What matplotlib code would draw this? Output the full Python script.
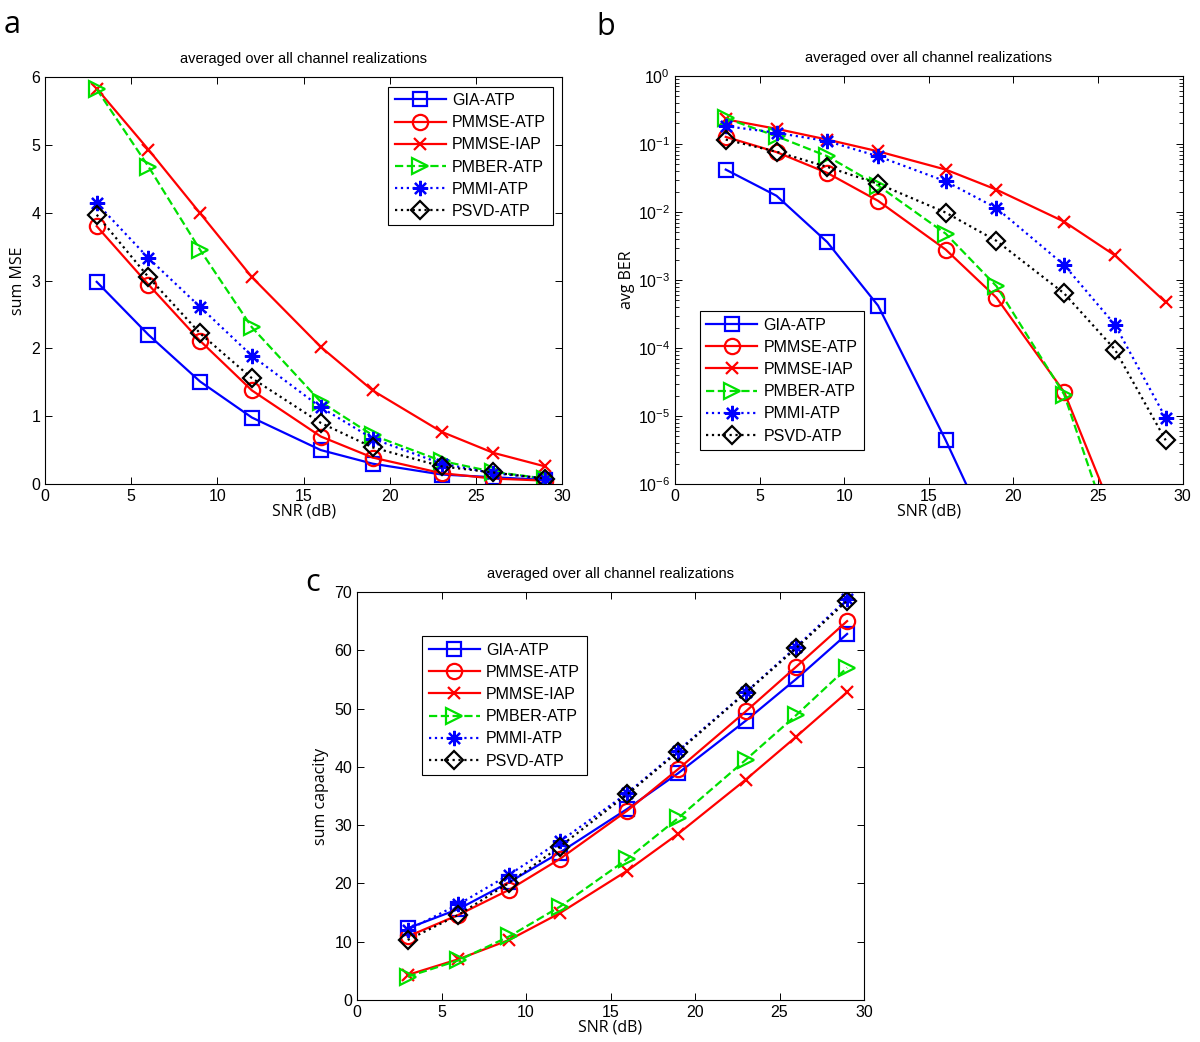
import numpy as np
import matplotlib
matplotlib.use("Agg")
import matplotlib.pyplot as plt
from matplotlib.ticker import LogLocator, NullFormatter

plt.rcParams['font.family'] = ['Liberation Sans', 'DejaVu Sans']

snr = [3, 6, 9, 12, 16, 19, 23, 26, 29]
names = ['GIA-ATP', 'PMMSE-ATP', 'PMMSE-IAP', 'PMBER-ATP', 'PMMI-ATP', 'PSVD-ATP']

# sum MSE (panel a)
mse_gia = [2.98, 2.20, 1.51, 0.98, 0.50, 0.30, 0.14, 0.10, 0.06]
mse_pmmse = [3.80, 2.94, 2.11, 1.38, 0.70, 0.39, 0.16, 0.08, 0.05]
mse_iap = [5.83, 4.93, 3.99, 3.05, 2.02, 1.38, 0.77, 0.46, 0.26]
mse_pmber = [5.82, 4.68, 3.45, 2.31, 1.21, 0.72, 0.34, 0.18, 0.08]
mse_pmmi = [4.14, 3.33, 2.61, 1.89, 1.13, 0.67, 0.30, 0.16, 0.08]
mse_psvd = [3.97, 3.05, 2.22, 1.56, 0.90, 0.54, 0.26, 0.17, 0.08]

# avg BER (panel b)
nan = np.nan
ber_gia = [4.2e-2, 1.73e-2, 3.6e-3, 4.2e-4, 4.4e-6, 1.1e-7, nan, nan, nan]
ber_pmmse = [0.127, 7.6e-2, 3.75e-2, 1.46e-2, 2.8e-3, 5.5e-4, 2.25e-5, 3.2e-7, nan]
ber_iap = [0.23, 0.167, 0.116, 7.8e-2, 4.2e-2, 2.13e-2, 7.2e-3, 2.3e-3, 4.7e-4]
ber_pmber = [0.24, 0.13, 6.6e-2, 2.45e-2, 4.8e-3, 8.1e-4, 2.07e-5, 1.3e-7, nan]
ber_pmmi = [0.183, 0.146, 0.11, 6.6e-2, 2.82e-2, 1.14e-2, 1.66e-3, 2.2e-4, 9.4e-6]
ber_psvd = [0.116, 7.7e-2, 4.6e-2, 2.6e-2, 9.8e-3, 3.76e-3, 6.35e-4, 9.5e-5, 4.4e-6]

# sum capacity (panel c)
cap_gia = [12.3, 15.6, 20.2, 25.3, 32.8, 38.9, 47.9, 55.1, 62.8]
cap_pmmse = [10.9, 14.6, 18.9, 24.2, 32.5, 39.6, 49.5, 57.2, 65.0]
cap_iap = [4.3, 7.0, 10.3, 14.9, 22.2, 28.5, 37.8, 45.2, 52.8]
cap_pmber = [4.0, 6.8, 10.9, 16.0, 24.2, 31.2, 41.2, 48.9, 57.0]
cap_pmmi = [12.0, 16.4, 21.5, 27.2, 35.5, 42.8, 52.8, 60.6, 68.8]
cap_psvd = [10.3, 14.6, 20.1, 26.3, 35.3, 42.6, 52.7, 60.4, 68.5]

styles = [
    dict(color='#0000ff', ls='-', marker='s', mfc='none'),
    dict(color='#ff0000', ls='-', marker='o', mfc='none'),
    dict(color='#ff0000', ls='-', marker='x'),
    dict(color='#00e000', ls='--', marker='>', mfc='none'),
    dict(color='#0000ff', ls=':', marker=(8, 2, 0)),   # matlab style asterisk
    dict(color='#000000', ls=':', marker='D', mfc='none'),
]
msizes = [10, 11, 8, 11, 11, 9]

fig = plt.figure(figsize=(12, 10.42), dpi=100)
ax_a = fig.add_axes([0.0375, 0.5355, 0.431, 0.3906])
ax_b = fig.add_axes([0.5625, 0.5355, 0.423, 0.3916])
ax_c = fig.add_axes([0.2975, 0.0403, 0.4225, 0.3916])


def draw(ax, series, logy=False):
    for nm, ys, st, ms in zip(names, series, styles, msizes):
        ax.plot(snr, ys, label=nm, lw=1.6, ms=ms, mew=1.6, **st)
    if logy:
        ax.set_yscale('log')
    ax.set_xlim(0, 30)
    ax.set_xticks(range(0, 31, 5))
    ax.tick_params(direction='in', top=True, right=True, labelsize=11.5,
                   length=5, width=0.7)
    ax.tick_params(which='minor', direction='in', top=False, right=True, length=3)
    for s in ax.spines.values():
        s.set_linewidth(0.8)
    ax.set_title('averaged over all channel realizations', fontsize=10.5, pad=10)
    ax.set_xlabel('SNR (dB)', fontsize=11.5, family=['Open Sans', 'DejaVu Sans'],
                  labelpad=0)


def legend(ax, **kw):
    lg = ax.legend(fontsize=11.5, fancybox=False, framealpha=1, edgecolor='black',
                   handlelength=3.2, borderpad=0.4, labelspacing=0.45,
                   handletextpad=0.4, borderaxespad=0.6, **kw)
    lg.get_frame().set_linewidth(0.8)


draw(ax_a, [mse_gia, mse_pmmse, mse_iap, mse_pmber, mse_pmmi, mse_psvd])
ax_a.set_ylim(0, 6)
ax_a.set_ylabel('sum MSE', fontsize=11.5, family=['Open Sans', 'DejaVu Sans'])
legend(ax_a, loc='upper right')

draw(ax_b, [ber_gia, ber_pmmse, ber_iap, ber_pmber, ber_pmmi, ber_psvd], logy=True)
ax_b.set_ylim(1e-6, 1)
ax_b.yaxis.set_major_locator(LogLocator(base=10, numticks=10))
ax_b.yaxis.set_minor_locator(LogLocator(base=10, subs=np.arange(2, 10), numticks=10))
ax_b.yaxis.set_minor_formatter(NullFormatter())
ax_b.set_ylabel('avg BER', fontsize=11.5, family=['Open Sans', 'DejaVu Sans'],
                labelpad=2)
legend(ax_b, loc='lower left', bbox_to_anchor=(0.03, 0.06))

draw(ax_c, [cap_gia, cap_pmmse, cap_iap, cap_pmber, cap_pmmi, cap_psvd])
ax_c.set_ylim(0, 70)
ax_c.set_ylabel('sum capacity', fontsize=11.5, family=['Open Sans', 'DejaVu Sans'])
legend(ax_c, loc='upper left', bbox_to_anchor=(0.11, 0.915))

for lbl, x, y in [('a', 0.003, 0.968), ('b', 0.497, 0.966), ('c', 0.254, 0.433)]:
    fig.text(x, y, lbl, fontsize=22, family=['Open Sans', 'DejaVu Sans'])

fig.savefig('out.png', dpi=100)
